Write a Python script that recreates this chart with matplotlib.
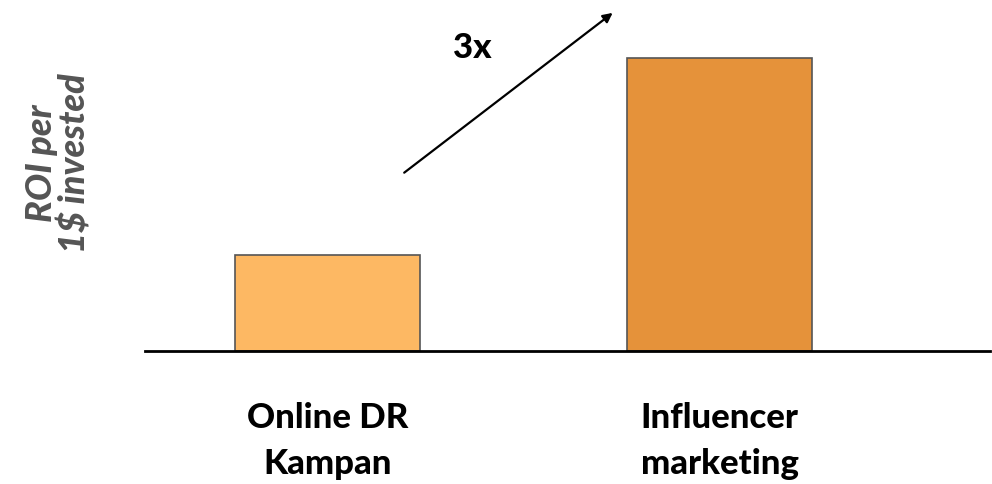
import matplotlib
matplotlib.use('Agg')
import matplotlib.pyplot as plt

# data
categories = ['Online DR\nKampan', 'Influencer\nmarketing']
roi_values = [1.0, 3.05]
bar_colors = ['#FDB863', '#E5923A']

plt.rcParams['font.family'] = ['Lato', 'DejaVu Sans']

fig = plt.figure(figsize=(9.92, 4.85), dpi=100)
ax = fig.add_axes([145 / 992, 133 / 485, 845 / 992, 352 / 485])

x = list(range(len(categories)))
ax.bar(x, roi_values, width=0.472, color=bar_colors, edgecolor='#555555', linewidth=1.2, zorder=2)

ax.set_xlim(-0.4656, 1.690)
ax.set_ylim(0, 3.667)

ax.set_xticks(x)
ax.set_xticklabels(categories, fontsize=25, fontweight='black', linespacing=1.55)
ax.tick_params(axis='x', length=0, pad=36)
ax.set_yticks([])

for side in ['top', 'right', 'left']:
    ax.spines[side].set_visible(False)
ax.spines['bottom'].set_linewidth(2)
ax.spines['bottom'].set_color('black')

# growth arrow
ax.annotate('', xy=(0.733, 3.54), xytext=(0.19, 1.84),
            arrowprops=dict(arrowstyle='-|>', color='black', lw=1.6, mutation_scale=14),
            annotation_clip=False)
ax.text(0.369, 3.167, '3x', fontsize=25, fontweight='black', ha='center', va='center')

fig.text(58 / 992, 1 - 163 / 485, 'ROI per\n1$ invested', rotation=90, fontsize=26,
         fontweight='black', fontstyle='italic', color='#555555', ha='center', va='center',
         multialignment='center', linespacing=1.0)

fig.savefig('out.png', dpi=100)
